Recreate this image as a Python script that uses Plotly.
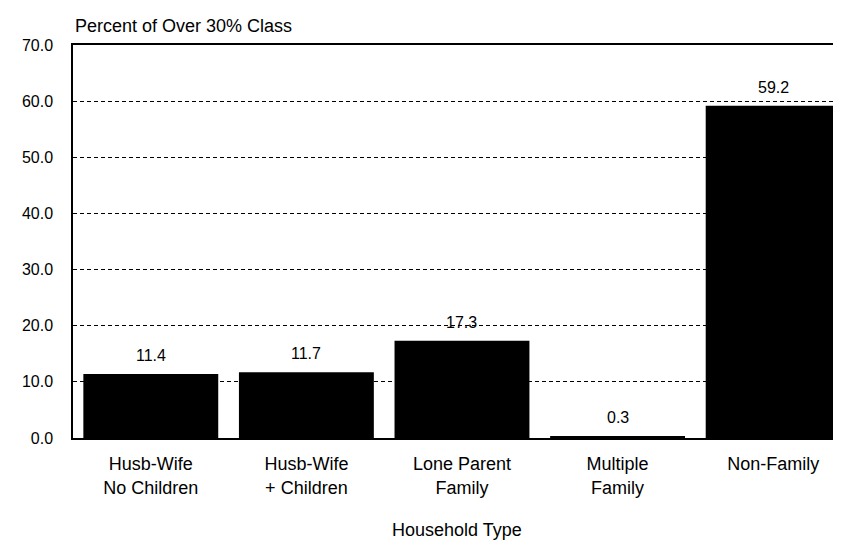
"""Bar chart: household type share of the over-30% class."""

import plotly.graph_objects as go

CATEGORIES = ["Husb-Wife No Children", "Husb-Wife + Children", "Lone Parent Family",
              "Multiple Family", "Non-Family"]
TICK_LABELS = ["Husb-Wife<br>No Children", "Husb-Wife<br>+ Children", "Lone Parent<br>Family",
               "Multiple<br>Family", "Non-Family"]
PERCENTS = [11.4, 11.7, 17.3, 0.3, 59.2]
Y_TICKS = [0, 10, 20, 30, 40, 50, 60, 70]

FONT = "Liberation Sans, Arial, sans-serif"

# the page body has an 8px default margin, so the figure is drawn 8px smaller
fig = go.Figure(
    go.Bar(
        x=CATEGORIES,
        y=PERCENTS,
        marker=dict(color="black", line=dict(width=0)),
        hoverinfo="skip",
    )
)

for cat, val in zip(CATEGORIES, PERCENTS):
    fig.add_annotation(
        x=cat, y=val, text=f"{val:.1f}", showarrow=False,
        yanchor="bottom", yshift=8, font=dict(size=16, color="black", family=FONT),
    )

fig.add_annotation(
    text="Percent of Over 30% Class", xref="paper", yref="paper", x=0, y=1,
    xanchor="left", yanchor="bottom", yshift=7, showarrow=False,
    font=dict(size=18, color="black", family=FONT),
)
fig.add_annotation(
    text="Household Type", xref="paper", yref="paper", x=0.5, y=0,
    xanchor="center", yanchor="middle", yshift=-92, showarrow=False,
    font=dict(size=18, color="black", family=FONT),
)

fig.update_layout(
    width=833, height=532,
    margin=dict(l=65, r=0, t=37, b=102),
    plot_bgcolor="white", paper_bgcolor="white",
    bargap=0.133, showlegend=False,
    font=dict(family=FONT, size=16, color="black"),
)
fig.update_xaxes(
    tickmode="array", tickvals=CATEGORIES, ticktext=TICK_LABELS,
    tickfont=dict(size=18),
    range=[-0.5, 4.436], showline=True, mirror=True, linecolor="black", linewidth=1.5,
    showgrid=False, ticks="", ticklabelstandoff=9,
)
fig.update_yaxes(
    range=[0, 70], tickvals=Y_TICKS, tickformat=".1f",
    showline=True, linecolor="black", linewidth=1.5,
    showgrid=True, gridcolor="black", griddash="4px,3px", gridwidth=1,
    zeroline=False, ticks="", ticklabelstandoff=15,
)

fig.write_html("out.html")
